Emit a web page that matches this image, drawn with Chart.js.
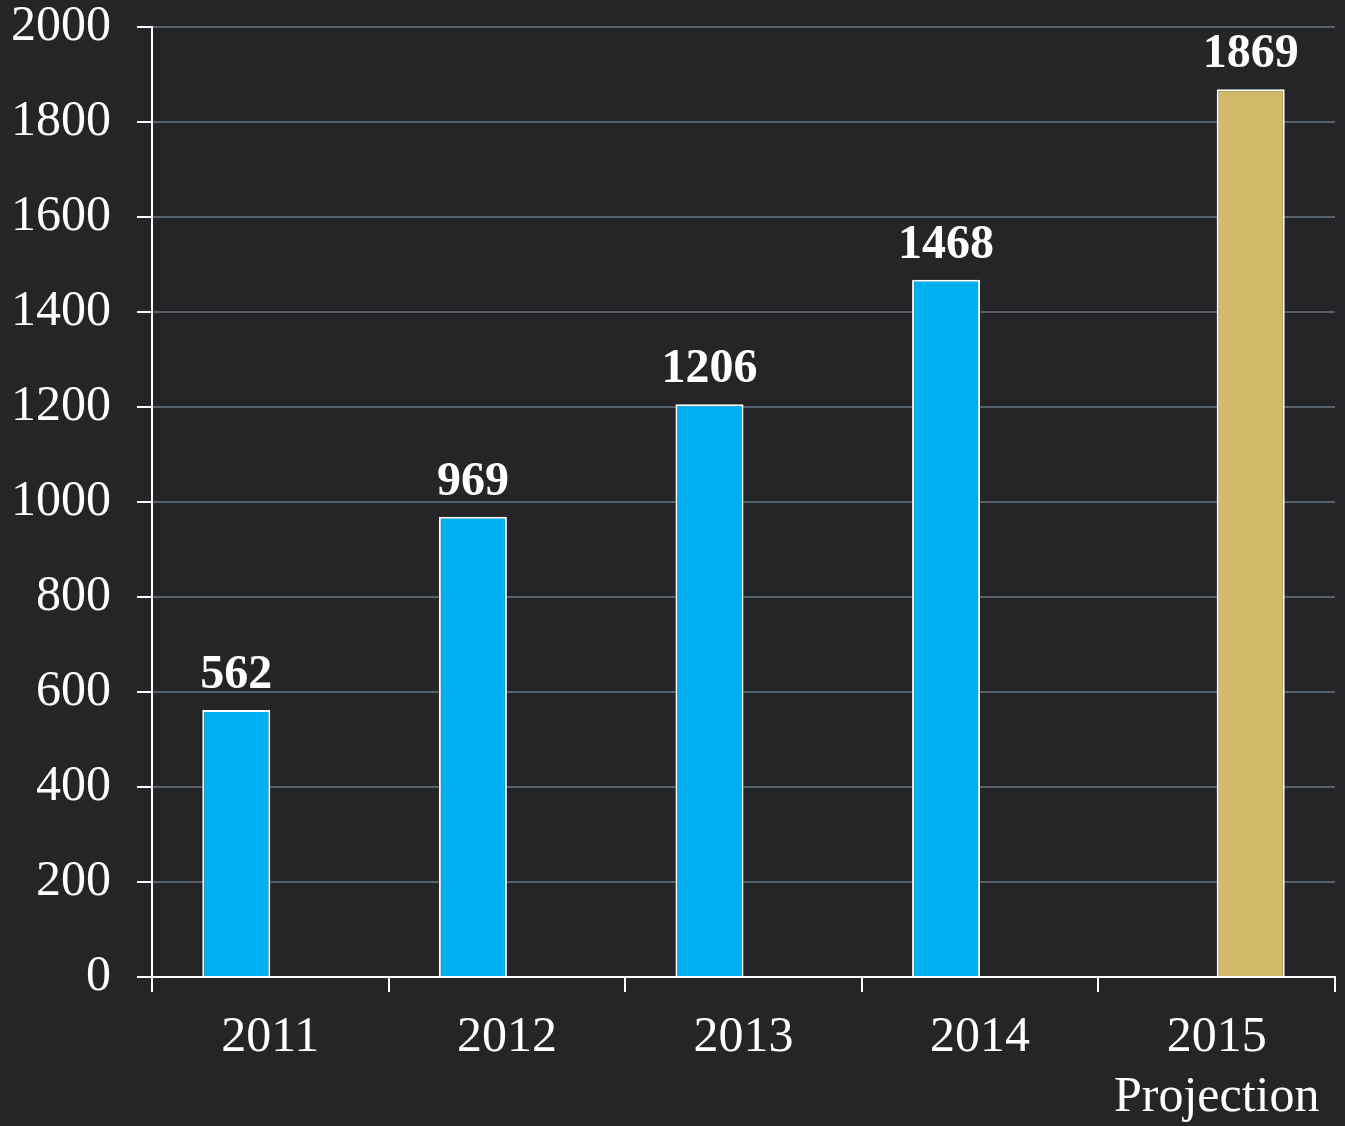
<!DOCTYPE html>
<html>
<head>
<meta charset="utf-8">
<script src="https://cdn.jsdelivr.net/npm/chart.js@4/dist/chart.umd.min.js"></script>
<style>
  html, body { margin: 0; padding: 0; background: #252527; }
  #wrap { width: 1345px; height: 1126px; position: relative; }
</style>
</head>
<body>
<div id="wrap"><canvas id="barChart"></canvas></div>
<script>
"use strict";

// data
const years = ["2011", "2012", "2013", "2014", ["2015", "Projection"]];
const actual = [562, 969, 1206, 1468, null];
const projection = [null, null, null, null, 1869];
const yTicks = [0, 200, 400, 600, 800, 1000, 1200, 1400, 1600, 1800, 2000];

const serif = '"Liberation Serif", "DejaVu Serif", serif';

// values drawn above each bar
const barValues = {
    id: 'barValues',
    afterDatasetsDraw(chart) {
        const ctx = chart.ctx;
        ctx.save();
        ctx.fillStyle = '#ffffff';
        ctx.font = 'bold 48px ' + serif;
        ctx.textAlign = 'center';
        ctx.textBaseline = 'alphabetic';
        chart.data.datasets.forEach((ds, i) => {
            const meta = chart.getDatasetMeta(i);
            meta.data.forEach((bar, j) => {
                const v = ds.data[j];
                if (v === null) return;
                ctx.fillText(String(v), bar.x, bar.y - 22);
            });
        });
        ctx.restore();
    }
};

var ctx = document.getElementById("barChart").getContext("2d");
var chart = new Chart(ctx, {
    type: 'bar',
    data: {
        labels: years,
        datasets: [{
            data: actual,
            backgroundColor: "#00B0F0",
            borderColor: "#ffffff",
            borderWidth: 2
        }, {
            data: projection,
            backgroundColor: "#D3BA69",
            borderColor: "#ffffff",
            borderWidth: 2
        }]
    },
    options: {
        responsive: true,
        maintainAspectRatio: false,
        animation: false,
        categoryPercentage: 0.575,
        barPercentage: 1.0,
        layout: { padding: { left: 0, right: 10, top: 27, bottom: 0 } },
        plugins: {
            legend: { display: false },
            tooltip: { enabled: false }
        },
        scales: {
            x: {
                afterFit: (scale) => { scale.height = 149; },
                grid: {
                    drawOnChartArea: false,
                    tickColor: '#ffffff',
                    tickLength: 15,
                    lineWidth: 2
                },
                border: { color: '#ffffff', width: 2 },
                ticks: {
                    color: '#ffffff',
                    font: { family: serif, size: 50, lineHeight: 1.2 },
                    padding: 16,
                    maxRotation: 0,
                    autoSkip: false
                }
            },
            y: {
                min: 0,
                max: 2000,
                afterBuildTicks: (axis) => { axis.ticks = yTicks.map(v => ({ value: v })); },
                afterFit: (scale) => {
                    scale.width = 152;
                    scale.paddingTop = 0;
                    scale.paddingBottom = 0;
                },
                grid: {
                    color: '#56616b',
                    lineWidth: 2,
                    tickColor: '#ffffff',
                    tickLength: 15
                },
                border: { color: '#ffffff', width: 2 },
                ticks: {
                    color: '#ffffff',
                    font: { family: serif, size: 50 },
                    padding: 26,
                    callback: (v) => String(v)
                }
            }
        }
    },
    plugins: [barValues]
});
</script>
</body>
</html>
